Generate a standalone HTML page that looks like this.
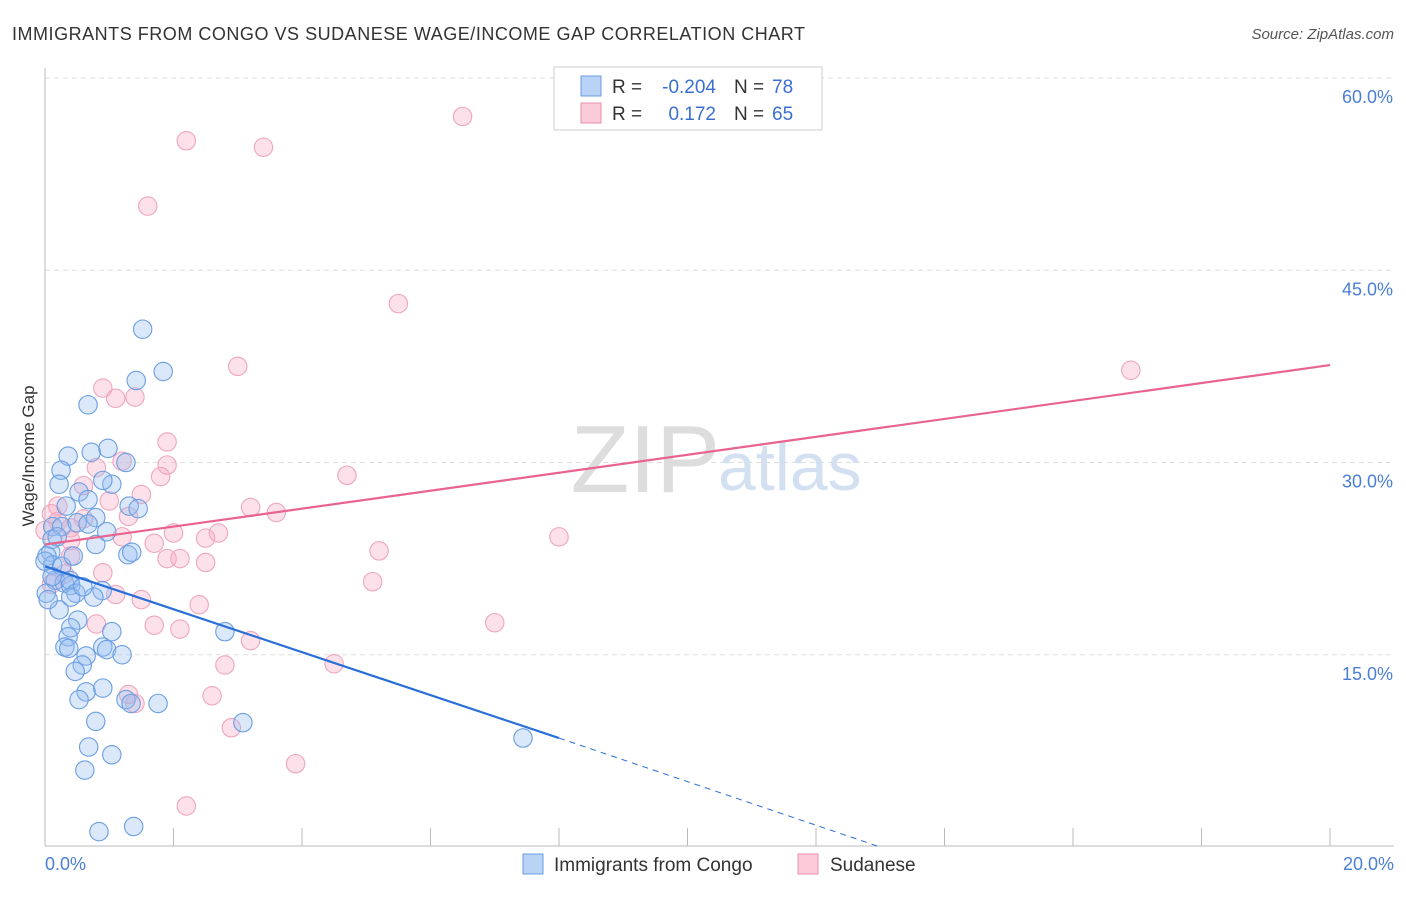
<!DOCTYPE html>
<html><head><meta charset="utf-8"><style>
body{margin:0;background:#fff;font-family:"Liberation Sans",sans-serif;}
svg text{font-family:"Liberation Sans",sans-serif;}
</style></head><body>
<svg width="1406" height="892" viewBox="0 0 1406 892">
<text x="12" y="40" font-size="18" fill="#333" textLength="793">IMMIGRANTS FROM CONGO VS SUDANESE WAGE/INCOME GAP CORRELATION CHART</text>
<text x="1394" y="39" font-size="15" fill="#555" font-style="italic" text-anchor="end">Source: ZipAtlas.com</text>
<g id="grid"></g>
<text x="720" y="492" font-size="96" fill="#ddd" text-anchor="end" font-family="Liberation Serif">ZIP</text>
<text x="718" y="490" font-size="68" fill="#d2e0f2">atlas</text>
<line x1="45" y1="68" x2="45" y2="846" stroke="#bbb"/>
<line x1="45" y1="846" x2="1394" y2="846" stroke="#bbb"/>
<g id="ticks"></g>
<g id="pts"></g>
<g id="lines"></g>
<text transform="translate(34,456) rotate(-90)" font-size="17" fill="#333" text-anchor="middle">Wage/Income Gap</text>
<text x="45" y="870" font-size="18" fill="#4a7fd4">0.0%</text>
<text x="1394" y="870" font-size="18" fill="#4a7fd4" text-anchor="end">20.0%</text>
<g>
<rect x="554" y="67" width="268" height="63" fill="#fff" stroke="#ccc"/>
<rect x="581" y="76" width="20" height="20" fill="#b8d3f5" stroke="#6a9be0"/>
<rect x="581" y="103" width="20" height="20" fill="#fbcbd9" stroke="#ea8fac"/>
<text x="612" y="93" font-size="19" fill="#333">R =</text><text x="716" y="93" font-size="19" fill="#3a6fd0" text-anchor="end">-0.204</text>
<text x="734" y="93" font-size="19" fill="#333">N =</text><text x="772" y="93" font-size="19" fill="#3a6fd0">78</text>
<text x="612" y="120" font-size="19" fill="#333">R =</text><text x="716" y="120" font-size="19" fill="#3a6fd0" text-anchor="end">0.172</text>
<text x="734" y="120" font-size="19" fill="#333">N =</text><text x="772" y="120" font-size="19" fill="#3a6fd0">65</text>
</g>
<g>
<rect x="523" y="854" width="20" height="20" fill="#b8d3f5" stroke="#6a9be0"/>
<text x="554" y="871" font-size="19" fill="#333">Immigrants from Congo</text>
<rect x="798" y="854" width="20" height="20" fill="#fbcbd9" stroke="#ea8fac"/>
<text x="830" y="871" font-size="19" fill="#333">Sudanese</text>
</g>
</svg>
<script>
const yTicks=[15,30,45,60];
const xTickVals=[0,2,4,6,8,10,12,14,16,18,20];
const blueX=[1.52,1.84,1.42,0.67,0.36,0.72,0.98,1.26,0.25,0.22,1.04,0.53,0.90,0.67,1.31,1.45,0.79,0.33,0.12,0.26,0.50,0.67,0.96,0.11,0.19,0.79,0.09,0.03,0.12,0.0,0.26,0.44,1.29,1.35,0.16,0.30,0.40,0.02,0.39,0.48,0.89,0.76,0.40,0.22,0.51,0.40,0.36,1.04,0.31,0.37,0.90,0.96,0.64,0.58,1.20,0.47,2.80,0.64,0.90,0.53,1.26,1.34,1.76,0.79,0.68,1.04,0.62,3.08,7.44,0.84,1.38,0.05,0.11,0.59];
const blueY=[40.4,37.1,36.4,34.5,30.5,30.8,31.1,30.0,29.4,28.3,28.3,27.7,28.6,27.1,26.6,26.4,25.7,26.6,25.0,25.0,25.3,25.2,24.6,24.0,24.2,23.6,23.0,22.7,22.0,22.3,21.9,22.7,22.8,23.0,20.8,20.6,20.4,19.8,20.8,19.8,20.0,19.5,19.5,18.5,17.7,17.1,16.4,16.8,15.6,15.5,15.6,15.4,14.9,14.2,15.0,13.7,16.8,12.1,12.4,11.5,11.5,11.2,11.2,9.8,7.8,7.2,6.0,9.7,8.5,1.2,1.6,19.3,21.1,20.3];
const pinkX=[2.2,3.4,6.5,1.6,5.5,3.0,16.9,0.9,1.1,1.4,1.9,1.2,0.8,1.9,1.8,4.7,0.6,1.5,0.2,1.0,0.1,1.3,0.2,0.6,3.2,3.6,0.4,2.0,1.7,2.5,2.7,1.2,5.2,8.0,0.4,0.4,1.9,2.1,2.5,0.9,5.1,1.1,1.5,2.4,0.8,1.7,2.1,7.0,3.2,2.8,4.5,2.6,1.3,1.4,2.9,3.9,2.2,0.1,0.3,0.0];
const pinkY=[55.1,54.6,57.0,50.0,42.4,37.5,37.2,35.8,35.0,35.1,31.6,30.1,29.6,29.8,28.9,29.0,28.2,27.5,26.6,27.0,26.0,25.8,25.4,25.6,26.5,26.1,24.9,24.5,23.7,24.1,24.5,24.2,23.1,24.2,22.7,23.9,22.5,22.5,22.2,21.4,20.7,19.7,19.3,18.9,17.4,17.3,17.0,17.5,16.1,14.2,14.3,11.8,11.9,11.2,9.3,6.5,3.2,20.5,21.3,24.7];
const blueTrend=[[0,21.9],[8,8.5]], blueDash=[[8,8.5],[13,0]];
const pinkTrend=[[0,23.6],[20,37.6]];
const NS='http://www.w3.org/2000/svg';
const X=v=>45+v/20*1285, Y=v=>847-v/60*769;
function mk(tag,a,parent){const e=document.createElementNS(NS,tag);for(const k in a)e.setAttribute(k,a[k]);parent.appendChild(e);return e;}
const grid=document.getElementById('grid');
yTicks.forEach(t=>{
 const l=mk('line',{x1:45,x2:1394,y1:Y(t),y2:Y(t),stroke:'#ddd','stroke-dasharray':'5,4'},grid);
 
 
 const tx=mk('text',{x:1393,y:Y(t)+25,'font-size':18,fill:'#4a7fd4','text-anchor':'end'},grid);
 tx.textContent=t.toFixed(1)+'%';
 
 
});
const ticks=document.getElementById('ticks');
xTickVals.forEach(t=>{
 const l=mk('line',{x1:X(t),x2:X(t),y1:828,y2:846,stroke:'#bbb'},ticks);
 
 
});
const pts=document.getElementById('pts');
pinkX.forEach((v,i)=>{
 const c=mk('circle',{cx:X(v),cy:Y(pinkY[i]),r:9.2,fill:'rgba(246,170,195,0.35)',stroke:'#efa5bd','stroke-width':1.1},pts);
 
 
});
blueX.forEach((v,i)=>{
 const c=mk('circle',{cx:X(v),cy:Y(blueY[i]),r:9.2,fill:'rgba(150,190,240,0.35)',stroke:'#6b9ee3','stroke-width':1.1},pts);
 
 
});
const lines=document.getElementById('lines');
function ln(p,col,dash,name){const l=mk('line',{x1:X(p[0][0]),y1:Y(p[0][1]),x2:X(p[1][0]),y2:Y(p[1][1]),stroke:col,'stroke-width':dash?1:2.2},lines);if(dash)l.setAttribute('stroke-dasharray','6,5');
 
 }
ln(pinkTrend,'#e8648e',false,'sudanese-trend-line');
ln(blueTrend,'#2a6fd8',false,'congo-trend-line');
ln(blueDash,'#2a6fd8',true,'congo-trend-extension');
</script>
</body></html>
